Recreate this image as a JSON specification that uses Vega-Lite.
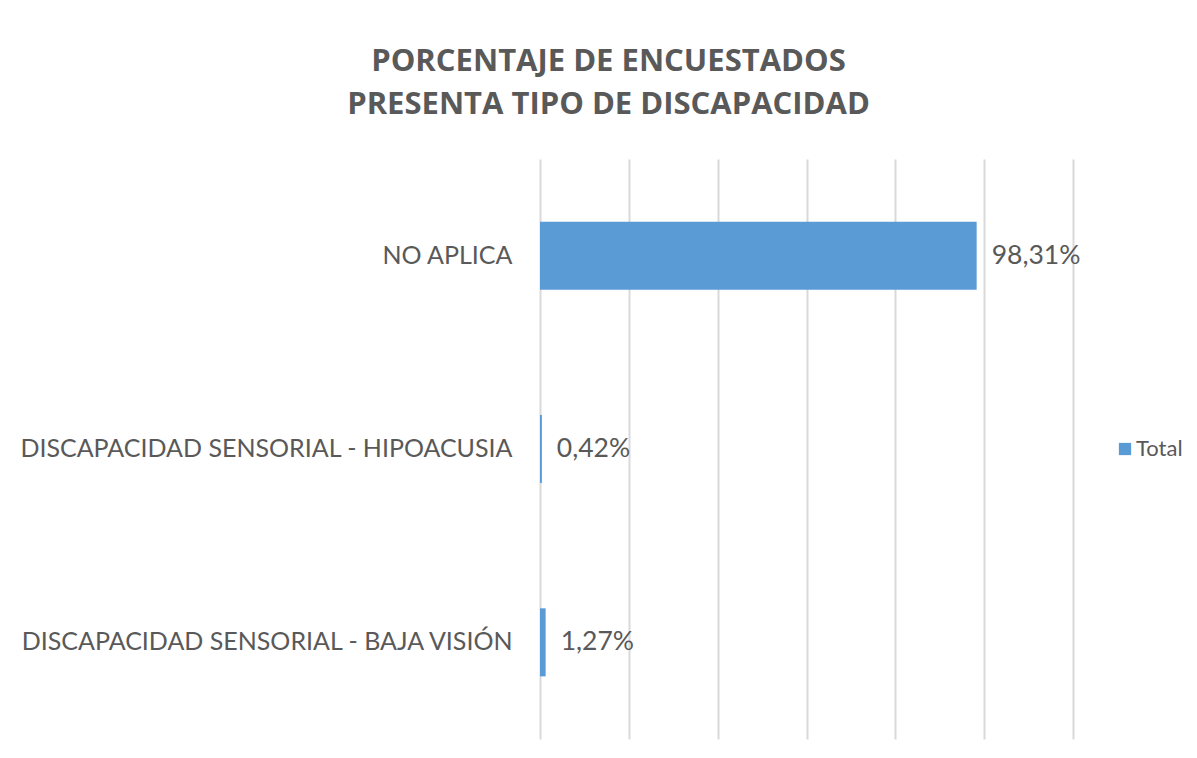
{
  "$schema": "https://vega.github.io/schema/vega-lite/v6.json",
  "width": 533,
  "height": 580,
  "padding": {"top": 46, "left": 10, "right": 10, "bottom": 10},
  "background": "white",
  "title": {
    "text": ["PORCENTAJE DE ENCUESTADOS", "PRESENTA TIPO DE DISCAPACIDAD"],
    "font": "Open Sans",
    "fontSize": 31,
    "fontWeight": "bold",
    "color": "#595959",
    "lineHeight": 43,
    "anchor": "middle",
    "frame": "bounds",
    "dx": 12,
    "offset": 38
  },
  "data": {
    "values": [
      {"categoria": "NO APLICA", "valor": 98.31, "etiqueta": "98,31%", "serie": "Total"},
      {"categoria": "DISCAPACIDAD SENSORIAL - HIPOACUSIA", "valor": 0.42, "etiqueta": "0,42%", "serie": "Total"},
      {"categoria": "DISCAPACIDAD SENSORIAL - BAJA VISIÓN", "valor": 1.27, "etiqueta": "1,27%", "serie": "Total"}
    ]
  },
  "encoding": {
    "y": {
      "field": "categoria",
      "type": "nominal",
      "sort": null,
      "scale": {"paddingInner": 0.648, "paddingOuter": 0.324},
      "axis": {
        "title": null,
        "ticks": false,
        "domain": false,
        "labelFont": "Lato",
        "labelFontSize": 25,
        "labelColor": "#595959",
        "labelPadding": 28,
        "labelLimit": 600,
        "minExtent": 530,
        "maxExtent": 530
      }
    },
    "x": {
      "field": "valor",
      "type": "quantitative",
      "scale": {"domain": [0, 120], "nice": false},
      "axis": {
        "title": null,
        "labels": false,
        "ticks": false,
        "domain": false,
        "values": [0, 20, 40, 60, 80, 100, 120],
        "grid": true,
        "gridColor": "#d9d9d9",
        "gridWidth": 2
      }
    }
  },
  "layer": [
    {
      "mark": {"type": "bar", "color": "#5b9bd5"},
      "encoding": {
        "color": {
          "field": "serie",
          "type": "nominal",
          "scale": {"range": ["#5b9bd5"]},
          "legend": {
            "title": null,
            "orient": "none",
            "legendX": 574,
            "legendY": 279,
            "symbolType": "square",
            "symbolSize": 150,
            "symbolOpacity": 1,
            "labelOffset": 0,
            "labelFont": "Lato",
            "labelFontSize": 22,
            "labelColor": "#595959"
          }
        }
      }
    },
    {
      "mark": {"type": "text", "align": "left", "baseline": "middle", "dx": 15, "font": "Lato", "fontSize": 26.5, "color": "#595959"},
      "encoding": {"text": {"field": "etiqueta"}}
    }
  ],
  "config": {"view": {"stroke": null}}
}
